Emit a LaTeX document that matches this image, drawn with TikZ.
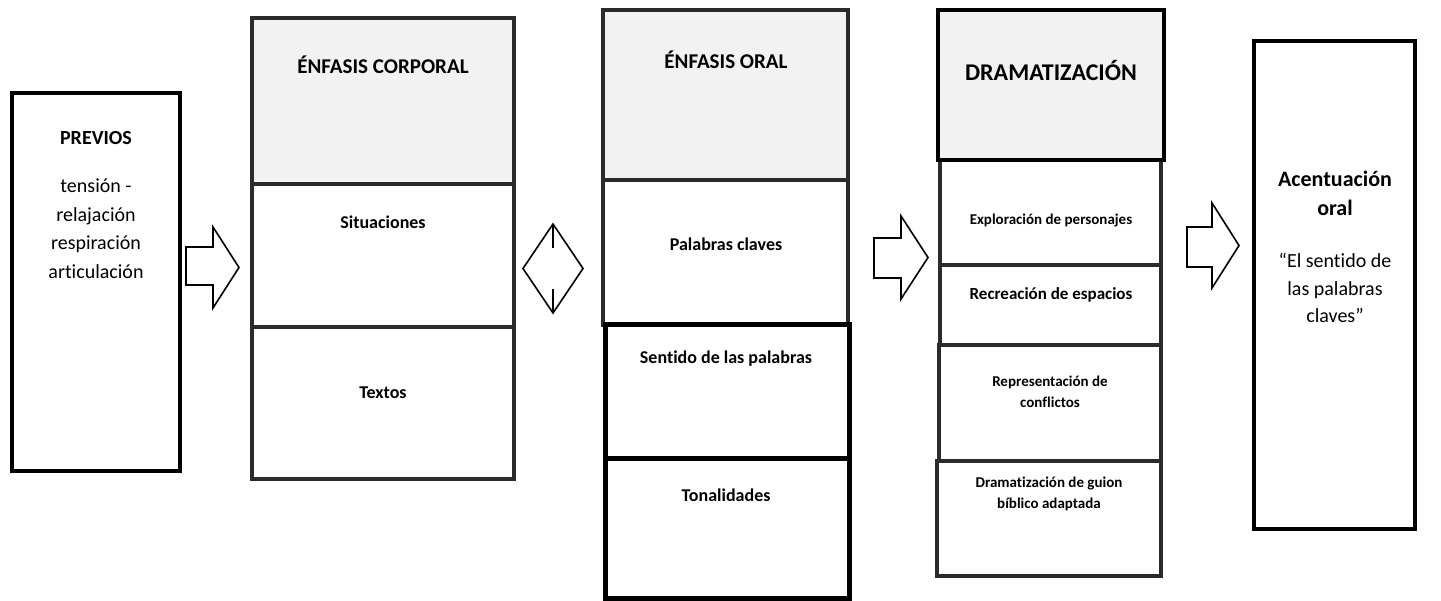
\documentclass[tikz,border=0pt]{standalone}
\usepackage{fontspec}
\setmainfont{Carlito}[Ligatures=NoCommon]
\definecolor{dkgray}{HTML}{2B2B2B}
\definecolor{hdrfill}{HTML}{F2F2F2}
\newcommand{\blockarrow}[7]{% tailx, basex, tipx, shafttop, shaftbot, headtop, headbot
  \draw[barrow] (#1,#4) -- (#2,#4) -- (#2,#6) -- (#3,{(#6+#7)/2}) -- (#2,#7) -- (#2,#5) -- (#1,#5) -- cycle;}
\begin{document}
\begin{tikzpicture}[x=1pt,y=-1pt,
  blk/.style={line width=4pt,draw=black},
  gry/.style={line width=4pt,draw=dkgray},
  hdr/.style={fill=hdrfill},
  barrow/.style={draw=black,line width=1.6pt,fill=white,line join=miter},
  lbl/.style={inner sep=0pt,anchor=base,text=black},
  bsz/.style={font=\fontsize{#1}{#1}\selectfont\bfseries},
  rsz/.style={font=\fontsize{#1}{#1}\selectfont}]
\useasboundingbox (0,0) rectangle (1441,601);

% ---------- PREVIOS ----------
\draw[blk] (12,93) rectangle (180,471);
\node[lbl,bsz=20] (prev) at (96,145) {PREVIOS};
\node[lbl,rsz=20] (prev1) at (96,193) {tensión -};
\node[lbl,rsz=20] (prev2) at (96,222) {relajación};
\node[lbl,rsz=20] (prev3) at (96,250) {respiración};
\node[lbl,rsz=20] (prev4) at (96,279) {articulación};

% arrow 1
\blockarrow{186}{213}{239}{247}{285}{227}{308}

% ---------- ÉNFASIS CORPORAL ----------
\fill[hdr] (252,18) rectangle (514,184);
\draw[gry] (252,18) rectangle (514,184);
\draw[gry] (252,184) rectangle (514,327);
\draw[gry] (252,327) rectangle (514,479);
\node[lbl,bsz=21] (ec) at (383,74) {ÉNFASIS CORPORAL};
\node[lbl,bsz=18] (sit) at (383,229) {Situaciones};
\node[lbl,bsz=18] (tex) at (383,399) {Textos};

% diamond double arrow
\draw[line width=1.6pt,line join=miter] (553,224) -- (583,268.5) -- (553,313) -- (523,268.5) -- cycle;
\draw[line width=1.6pt] (553,224) -- (553,248);
\draw[line width=1.6pt] (553,289) -- (553,313);

% ---------- ÉNFASIS ORAL ----------
\fill[hdr] (603,10) rectangle (848,180);
\draw[gry] (603,10) rectangle (848,180);
\draw[gry] (603,180) rectangle (848,325);
\draw[line width=5pt,draw=black] (605,325) rectangle (849,459);
\draw[line width=5pt,draw=black] (605,459) rectangle (849,598);
\node[lbl,bsz=21] (eo) at (726,69) {ÉNFASIS ORAL};
\node[lbl,bsz=18] (pc) at (726,251) {Palabras claves};
\node[lbl,bsz=18] (sp) at (726,364) {Sentido de las palabras};
\node[lbl,bsz=18] (ton) at (726,501) {Tonalidades};

% arrow 3
\blockarrow{874}{901}{928}{238}{278}{216}{299}

% ---------- DRAMATIZACIÓN ----------
\fill[hdr] (938,10) rectangle (1164,160);
\draw[gry] (940,160) rectangle (1161,265);
\draw[gry] (940,265) rectangle (1161,345);
\draw[gry] (939,345) rectangle (1161,461);
\draw[gry] (937,461) rectangle (1161,576);
\draw[blk] (938,10) rectangle (1164,160);
\node[lbl,bsz=24] (dr) at (1051,81) {DRAMATIZACIÓN};
\node[lbl,bsz=15] (exp) at (1051,225) {Exploración de personajes};
\node[lbl,bsz=17] (rec) at (1051,300) {Recreación de espacios};
\node[lbl,bsz=15] (rep1) at (1050,387) {Representación de};
\node[lbl,bsz=15] (rep2) at (1050,408) {conflictos};
\node[lbl,bsz=15] (dg1) at (1049,488) {Dramatización de guion};
\node[lbl,bsz=15] (dg2) at (1049,508) {bíblico adaptada};

% arrow 4
\blockarrow{1187}{1212}{1239}{227}{267}{203}{288}

% ---------- Acentuación oral ----------
\draw[blk] (1254,41) rectangle (1415,529);
\node[lbl,bsz=22] (ac1) at (1335,187) {Acentuación};
\node[lbl,bsz=22] (ac2) at (1335,216) {oral};
\node[lbl,rsz=20] (ac3) at (1335,268) {“El sentido de};
\node[lbl,rsz=20] (ac4) at (1335,296) {las palabras};
\node[lbl,rsz=20] (ac5) at (1335,323) {claves”};
\end{tikzpicture}
\end{document}
